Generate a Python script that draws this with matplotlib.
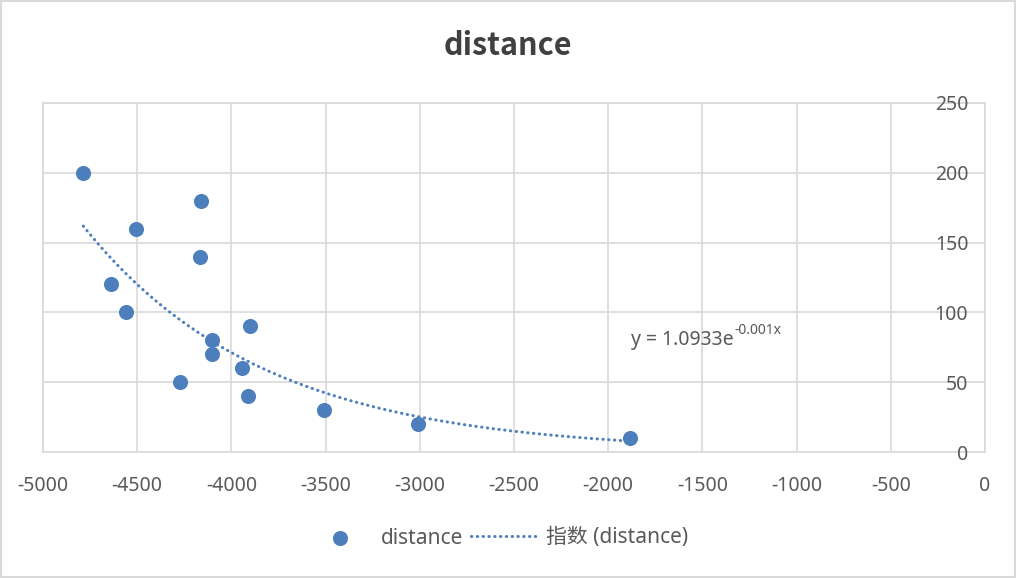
import numpy as np
import matplotlib
matplotlib.use('agg')
import matplotlib.pyplot as plt
from matplotlib.patches import Rectangle

# data
x_vals = [-4786, -4639, -4558, -4508, -4275, -4161, -4167, -4105, -4103,
          -3945, -3910, -3903, -3510, -3008, -1885]
y_vals = [200, 120, 100, 160, 50, 180, 140, 80, 70, 60, 40, 90, 30, 20, 10]
x_ticks = list(range(-5000, 1, 500))
y_ticks = list(range(0, 251, 50))
eq_base = 'y = 1.0933e'
eq_sup = '-0.001x'

plt.rcParams['font.family'] = ['Noto Sans', 'Noto Sans CJK SC', 'DejaVu Sans']
plt.rcParams['axes.unicode_minus'] = False
blue = '#4e7fbd'
grey_txt = '#595959'
grid_c = '#d9d9d9'

fig = plt.figure(figsize=(10.16, 5.78), dpi=100)
ax = fig.add_axes([43/1016, 1-452/578, 942/1016, 349/578])

x = np.array(x_vals, dtype=float)
y = np.array(y_vals, dtype=float)

# exponential trendline (least squares on ln y, like Excel)
b, lna = np.polyfit(x, np.log(y), 1)
xs = np.linspace(x.min(), x.max(), 300)
ys = np.exp(lna) * np.exp(b * xs)

ax.scatter(x, y, s=118, color=blue, zorder=3, linewidths=0, label='distance')
ax.plot(xs, ys, color=blue, lw=2.2, linestyle=(0, (0.1, 1.8)),
        dash_capstyle='round', zorder=2, label='指数 (distance)')

ax.set_xlim(-5000, 0)
ax.set_ylim(0, 250)
ax.set_xticks(x_ticks)
ax.set_yticks(y_ticks)
ax.grid(True, color=grid_c, lw=1.2)
ax.set_axisbelow(True)
for s in ax.spines.values():
    s.set_color(grid_c)
    s.set_linewidth(1.2)
    s.set_zorder(0.2)

ax.yaxis.tick_right()
ax.tick_params(axis='y', length=0, pad=-12, labelsize=14, labelcolor=grey_txt)
for lab in ax.get_yticklabels():
    lab.set_horizontalalignment('right')
ax.tick_params(axis='x', length=0, pad=17, labelsize=14, labelcolor=grey_txt)

# trendline equation, superscript as a second text so the hyphen stays a hyphen
t = ax.text(-1880, 80, eq_base, fontsize=14, color=grey_txt, va='center', ha='left')
ax.annotate(eq_sup, xy=(1, 0.62), xycoords=t, xytext=(0.5, 0), textcoords='offset points',
            fontsize=10, color=grey_txt, va='bottom', ha='left')

fig.text(0.5, 1-46/578, 'distance', fontsize=22, fontweight='bold',
         family=['Noto Sans CJK SC'], color='#404040', ha='center', va='center')

fig.legend(loc='center', bbox_to_anchor=(0.489, 40/578), ncol=2, frameon=False,
           fontsize=15, labelcolor=grey_txt, handlelength=3.3, handletextpad=0.3,
           columnspacing=0.4)

fig.patches.append(Rectangle((0.001, 0.001), 0.998, 0.997, transform=fig.transFigure,
                             fill=False, edgecolor=grid_c, lw=1.5))

fig.savefig('out.png', dpi=100)
